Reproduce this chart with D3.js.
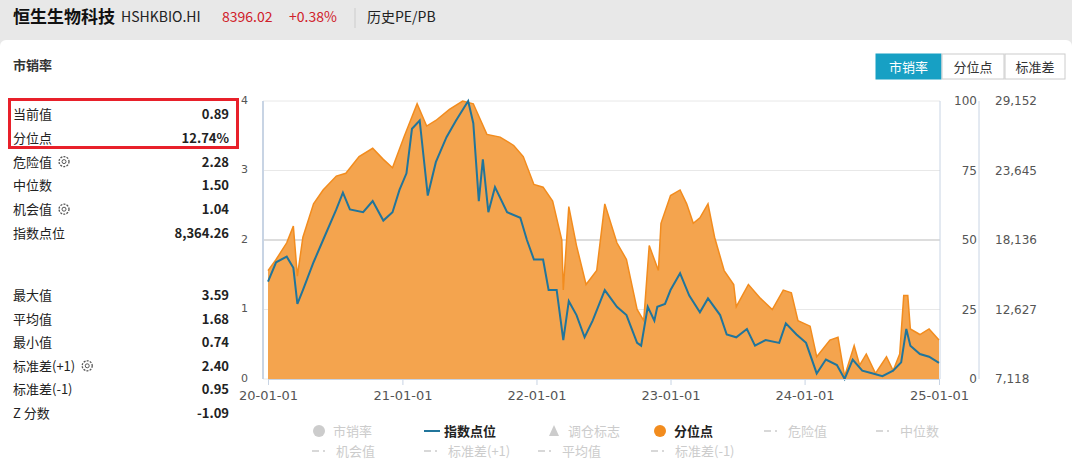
<!DOCTYPE html>
<html><head><meta charset="utf-8">
<script src="https://cdn.jsdelivr.net/npm/d3@7"></script>
<style>
body{margin:0;background:#fff;font-family:"Noto Sans CJK SC","Noto Sans",sans-serif;}
</style></head>
<body><svg id="chart" width="1072" height="463"></svg>
<script>
'use strict';

// 分位点 (percentile, 0-100), sampled in decimal years
const pctDates = [2020.0,2020.06,2020.14,2020.19,2020.22,2020.26,2020.34,2020.41,2020.51,2020.58,2020.68,2020.78,2020.86,2020.93,
  2021.01,2021.11,2021.18,2021.25,2021.35,2021.45,2021.53,2021.63,2021.73,2021.83,2021.9,2021.98,
  2022.05,2022.12,2022.19,2022.2,2022.24,2022.3,2022.37,2022.45,2022.51,2022.6,2022.67,2022.75,2022.8,2022.84,2022.91,2022.93,
  2023.0,2023.07,2023.12,2023.17,2023.22,2023.28,2023.33,2023.4,2023.47,2023.49,2023.58,2023.67,2023.76,2023.84,2023.9,2023.95,
  2024.04,2024.09,2024.19,2024.25,2024.3,2024.37,2024.41,2024.46,2024.53,2024.61,2024.66,2024.71,2024.74,2024.77,2024.79,2024.86,2024.93,2025.0];
const pctValues = [39,43,49,55,37,51,63,68,73,74,80,83,79,76,
  87,99,91,93,97,100,99,88,87,84,80,70,
  69,64,50,32,62,48,34,39,63,49,43,25,21,48,39,56,
  66,68,63,56,58,63,51,39,34,26,34,29,25,32,31,21,
  19,8,14,15,1,12,5,9,2,8,3,9,30,30,18,16,18,14];

// 指数点位 (index level)
const idxDates = [2020.0,2020.06,2020.14,2020.19,2020.22,2020.26,2020.34,2020.41,2020.51,2020.56,2020.61,2020.71,2020.78,2020.86,2020.93,2020.98,
  2021.03,2021.07,2021.13,2021.19,2021.25,2021.33,2021.4,2021.49,2021.53,2021.57,2021.6,2021.64,2021.69,2021.78,2021.88,2021.93,2021.98,
  2022.05,2022.09,2022.15,2022.2,2022.24,2022.3,2022.36,2022.42,2022.51,2022.6,2022.67,2022.75,2022.78,2022.83,2022.88,2022.9,2022.96,
  2023.0,2023.07,2023.14,2023.22,2023.28,2023.37,2023.42,2023.49,2023.57,2023.63,2023.71,2023.81,2023.86,2023.94,
  2024.01,2024.09,2024.16,2024.24,2024.3,2024.36,2024.43,2024.51,2024.58,2024.66,2024.72,2024.76,2024.79,2024.86,2024.93,2025.0];
const idxValues = [14830,16372,16813,15932,13067,14169,16372,18135,20559,21881,20559,20338,21220,19677,20338,22101,
  23423,26949,27610,21660,24305,26288,27610,29152,27389,21220,24525,20338,22321,20338,19898,18135,16592,
  16592,14169,14169,10203,13288,12186,10423,11745,14169,12847,12186,9982,9759,12847,11745,12847,13067,
  14169,15491,13728,12406,13508,12186,10643,10423,11084,9762,10203,9982,11525,10643,
  9982,7559,8660,8220,7118,8660,7779,7559,7338,7779,8440,11084,9762,9101,8881,8396];

const xTickLabels = ['20-01-01','21-01-01','22-01-01','23-01-01','24-01-01','25-01-01'];
const psTicks = [0,1,2,3,4];
const pctTicks = [0,25,50,75,100];
const idxTickLabels = ['7,118','12,627','18,136','23,645','29,152'];

const statsTop = [['当前值','0.89'],['分位点','12.74%'],['危险值','2.28',1],['中位数','1.50'],['机会值','1.04',1],['指数点位','8,364.26']];
const statsBottom = [['最大值','3.59'],['平均值','1.68'],['最小值','0.74'],['标准差(+1)','2.40',1],['标准差(-1)','0.95'],['Z 分数','-1.09']];
const legendRow1 = [['市销率','dot','#ccc'],['指数点位','line','#21759b'],['调仓标志','tri','#ccc'],['分位点','dot','#f28c1e'],['危险值','dash','#ccc'],['中位数','dash','#ccc']];
const legendRow2 = [['机会值','dash','#ccc'],['标准差(+1)','dash','#ccc'],['平均值','dash','#ccc'],['标准差(-1)','dash','#ccc']];

const svg = d3.select('#chart');
const toDate = (t) => { const y = Math.floor(t); return new Date(y, 0, 1 + Math.round((t - y) * 365)); };

// header
svg.append('rect').attr('width',1072).attr('height',463).attr('fill','#e8e8e8');
svg.append('rect').attr('x',0).attr('y',40).attr('width',1072).attr('height',430).attr('rx',6).attr('fill','#fff');
const hdr = svg.append('g').attr('font-family','"Noto Sans CJK SC",sans-serif');
hdr.append('text').attr('x',13).attr('y',23).attr('font-size',17).attr('font-weight','bold').attr('fill','#111').text('恒生生物科技');
hdr.append('text').attr('x',121).attr('y',22).attr('font-size',14).attr('fill','#222').text('HSHKBIO.HI');
hdr.append('text').attr('x',222).attr('y',22).attr('font-size',14).attr('fill','#d0202a').text('8396.02');
hdr.append('text').attr('x',289).attr('y',22).attr('font-size',14).attr('fill','#d0202a').text('+0.38%');
svg.append('line').attr('x1',355).attr('x2',355).attr('y1',8).attr('y2',28).attr('stroke','#ccc');
hdr.append('text').attr('x',367).attr('y',22).attr('font-size',14).attr('fill','#222').text('历史PE/PB');
svg.append('text').attr('x',13).attr('y',70).attr('font-size',13).attr('font-weight','bold').attr('fill','#333').text('市销率');

// buttons
const btns = [['市销率',876,65,true],['分位点',942,62,false],['标准差',1005,60,false]];
btns.forEach(([t,x,w,on]) => {
  svg.append('rect').attr('x',x).attr('y',54).attr('width',w).attr('height',25)
    .attr('fill',on ? '#17a0c4' : '#fff').attr('stroke',on ? '#17a0c4' : '#ccc');
  svg.append('text').attr('x',x + w / 2).attr('y',72).attr('text-anchor','middle').attr('font-size',13)
    .attr('fill',on ? '#fff' : '#333').text(t);
});

// stats panel
function gear(x, y) {
  const g = svg.append('g').attr('transform',`translate(${x},${y})`);
  g.append('circle').attr('r',5).attr('fill','none').attr('stroke','#555').attr('stroke-width',1.3).attr('stroke-dasharray','2,1.2');
  g.append('circle').attr('r',2).attr('fill','none').attr('stroke','#555');
}
function drawStats(rows, y0, step) {
  rows.forEach(([l, v, g], i) => {
    const y = y0 + i * step;
    const t = svg.append('text').attr('x',13).attr('y',y).attr('font-size',13).attr('fill','#222').text(l);
    svg.append('text').attr('x',229).attr('y',y).attr('text-anchor','end').attr('font-size',13).attr('font-weight','bold').attr('fill','#222').text(v);
    if (g) gear(13 + t.node().getComputedTextLength() + 12, y - 5);
  });
}
drawStats(statsTop, 119, 23.8);
drawStats(statsBottom, 300, 23.6);
svg.append('rect').attr('x',9.5).attr('y',99.5).attr('width',228).attr('height',48).attr('fill','none').attr('stroke','#e8202a').attr('stroke-width',3);

// chart
const x = d3.scaleTime().domain([new Date(2020,0,1), new Date(2025,0,1)]).range([268, 939]);
const yTop = 101, yBottom = 379;
const yPs = d3.scaleLinear().domain([0,4]).range([yBottom, yTop]);
const yPct = d3.scaleLinear().domain([0,100]).range([yBottom, yTop]);
const yIdx = d3.scaleLinear().domain([7118,29152]).range([yBottom, yTop]);

const grid = svg.append('g');
psTicks.forEach((t) => grid.append('line').attr('x1',263).attr('x2',940).attr('y1',yPs(t)).attr('y2',yPs(t))
  .attr('stroke', t === 2 ? '#ddd' : '#e8e8e8').attr('stroke-width', t === 2 ? 2 : 1));
svg.append('line').attr('x1',263).attr('x2',263).attr('y1',yTop).attr('y2',yBottom).attr('stroke','#c8d4e4').attr('stroke-width',2);
svg.append('line').attr('x1',940).attr('x2',940).attr('y1',yTop).attr('y2',yBottom).attr('stroke','#c8d4e4');
svg.append('line').attr('x1',979).attr('x2',979).attr('y1',yTop).attr('y2',yBottom).attr('stroke','#c8d4e4');

const pctData = pctDates.map((d, i) => ({ date: toDate(d), v: pctValues[i] }));
const idxData = idxDates.map((d, i) => ({ date: toDate(d), v: idxValues[i] }));

svg.append('path').datum(pctData).attr('fill','#f4a44e')
  .attr('d', d3.area().x((d) => x(d.date)).y0(yBottom).y1((d) => yPct(d.v)));
svg.append('path').datum(pctData).attr('fill','none').attr('stroke','#f28c1e').attr('stroke-width',1.5)
  .attr('d', d3.line().x((d) => x(d.date)).y((d) => yPct(d.v)));
svg.append('path').datum(idxData).attr('fill','none').attr('stroke','#21759b').attr('stroke-width',2)
  .attr('d', d3.line().x((d) => x(d.date)).y((d) => yIdx(d.v)));

// axes
const xAxis = svg.append('g').attr('transform',`translate(0,${yBottom})`)
  .call(d3.axisBottom(x).tickValues(d3.range(2020,2026).map((yr) => new Date(yr,0,1))).tickFormat((d, i) => xTickLabels[i]).tickSize(6));
xAxis.select('.domain').attr('stroke','#c8d4e4');
xAxis.selectAll('.tick line').attr('stroke','#c8d4e4');
xAxis.selectAll('.tick text').attr('fill','#555').attr('font-size',13).attr('font-family','"DejaVu Sans",sans-serif').attr('dy','0.9em');

const lAxis = svg.append('g').attr('transform','translate(248,0)').call(d3.axisLeft(yPs).tickValues(psTicks).tickSize(0).tickFormat(d3.format('d')));
lAxis.select('.domain').remove();
lAxis.selectAll('text').attr('fill','#555').attr('font-size',11).attr('font-family','"DejaVu Sans",sans-serif').attr('text-anchor','end').attr('x',0).attr('dy','0.2em');

const pAxis = svg.append('g').attr('transform','translate(977,0)').call(d3.axisLeft(yPct).tickValues(pctTicks).tickSize(0));
pAxis.select('.domain').remove();
pAxis.selectAll('text').attr('fill','#555').attr('font-size',12).attr('font-family','"DejaVu Sans",sans-serif').attr('x',0);

const iAxis = svg.append('g').attr('transform','translate(995,0)').call(d3.axisRight(yIdx).tickValues(d3.range(5).map((i) => 7118 + i * 5508.5)).tickSize(0).tickFormat((d, i) => idxTickLabels[i]));
iAxis.select('.domain').remove();
iAxis.selectAll('text').attr('fill','#555').attr('font-size',12).attr('font-family','"DejaVu Sans",sans-serif').attr('x',0);

// legend
function legend(items, xs, y) {
  items.forEach(([t, kind, c], i) => {
    const lx = xs[i];
    const g = svg.append('g');
    if (kind === 'dot') g.append('circle').attr('cx',lx + 6).attr('cy',y - 5).attr('r',6).attr('fill',c);
    if (kind === 'line') g.append('line').attr('x1',lx).attr('x2',lx + 16).attr('y1',y - 5).attr('y2',y - 5).attr('stroke',c).attr('stroke-width',2);
    if (kind === 'tri') g.append('path').attr('d',`M${lx + 6},${y - 11}L${lx + 11},${y}L${lx + 1},${y}Z`).attr('fill',c);
    if (kind === 'dash') g.append('line').attr('x1',lx).attr('x2',lx + 16).attr('y1',y - 5).attr('y2',y - 5).attr('stroke',c).attr('stroke-width',1.5).attr('stroke-dasharray','7,4,2,4');
    const active = c !== '#ccc';
    g.append('text').attr('x',lx + (kind === 'dash' ? 24 : 20)).attr('y',y).attr('font-size',13).attr('font-weight', active ? 'bold' : 'normal')
      .attr('fill', active ? '#222' : '#ccc').text(t);
  });
}
legend(legendRow1, [313,424,548,654,764,876], 436);
legend(legendRow2, [312,424,538,651], 456);
</script></body></html>
